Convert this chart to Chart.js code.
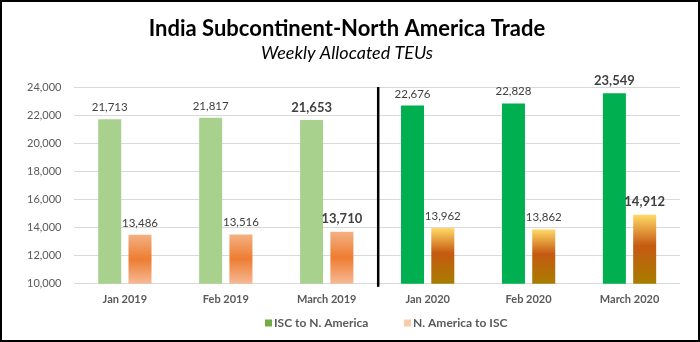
<!DOCTYPE html>
<html><head><meta charset="utf-8">
<script src="https://cdn.jsdelivr.net/npm/chart.js@4/dist/chart.umd.min.js"></script>
<style>
html,body{margin:0;padding:0;background:#fff;}
#wrap{width:700px;height:342px;box-sizing:border-box;border:2px solid #000;position:relative;}
</style></head><body>
<div id="wrap"><canvas id="c" width="696" height="338"></canvas></div>
<script>
const categories = ["Jan 2019","Feb 2019","March 2019","Jan 2020","Feb 2020","March 2020"];
const iscToNA = [21713, 21817, 21653, 22676, 22828, 23549];
const naToISC = [13486, 13516, 13710, 13962, 13862, 14912];
const boldLabelIdx = [2, 5];
const seriesNames = ["ISC to N. America", "N. America to ISC"];
const legendColors = ['#70ad47', '#f8cbad'];

const FONT = "Lato, 'Open Sans', sans-serif";

function greenColor(ctx){ return ctx.dataIndex < 3 ? '#a9d18e' : '#00b050'; }
function orangeGrad(ctx){
  const chart = ctx.chart; const {ctx:c, scales} = chart;
  if (!scales || !scales.y || ctx.type !== 'data') return '#f4b183';
  const v = ctx.raw;
  const yTop = scales.y.getPixelForValue(v);
  const yBot = scales.y.getPixelForValue(10000);
  if (!isFinite(yTop) || !isFinite(yBot)) return '#f4b183';
  const g = c.createLinearGradient(0, yTop, 0, yBot);
  if (ctx.dataIndex < 3) {
    g.addColorStop(0, '#f4b183');
    g.addColorStop(0.5, '#ed7d31');
    g.addColorStop(1, '#f6b995');
  } else {
    g.addColorStop(0, '#ffd966');
    g.addColorStop(0.45, '#c55a11');
    g.addColorStop(1, '#a87d00');
  }
  return g;
}

const labelPlugin = {
  id: 'barLabels',
  afterDatasetsDraw(chart){
    const c = chart.ctx;
    chart.data.datasets.forEach((ds, di) => {
      const meta = chart.getDatasetMeta(di);
      meta.data.forEach((bar, i) => {
        const bold = boldLabelIdx.includes(i);
        c.save();
        c.font = (bold ? 'bold 13px ' : '11.5px ') + FONT;
        c.fillStyle = '#404040';
        c.textAlign = 'center';
        c.textBaseline = 'bottom';
        c.fillText(ds.data[i].toLocaleString('en-US'), bar.x, bar.y - 6);
        c.restore();
      });
    });
  }
};

const dividerPlugin = {
  id: 'divider',
  afterDatasetsDraw(chart){
    const x = chart.scales.x; const y = chart.scales.y;
    const px = (x.getPixelForValue(2) + x.getPixelForValue(3)) / 2 + 1;
    const c = chart.ctx;
    c.save();
    c.strokeStyle = '#000'; c.lineWidth = 2.5;
    c.beginPath(); c.moveTo(px, y.getPixelForValue(24000)); c.lineTo(px, y.getPixelForValue(10000) + 3); c.stroke();
    c.restore();
  }
};

const legendPlugin = {
  id: 'customLegend',
  afterDraw(chart){
    const c = chart.ctx;
    const yc = 321;
    const starts = [263, 402];
    c.save();
    c.font = 'bold 12px ' + FONT;
    c.textBaseline = 'middle';
    c.textAlign = 'left';
    seriesNames.forEach((n, i) => {
      c.fillStyle = legendColors[i];
      c.fillRect(starts[i], yc - 3.5, 7, 7);
      c.fillStyle = '#595959';
      c.fillText(n, starts[i] + 9, yc);
    });
    c.restore();
  }
};

new Chart(document.getElementById('c'), {
  type: 'bar',
  data: {
    labels: categories,
    datasets: [
      { label: seriesNames[0], data: iscToNA, backgroundColor: greenColor, borderWidth: 0,
        categoryPercentage: 0.6, barPercentage: 0.76 },
      { label: seriesNames[1], data: naToISC, backgroundColor: orangeGrad, borderWidth: 0,
        categoryPercentage: 0.6, barPercentage: 0.76 }
    ]
  },
  options: {
    responsive: false, animation: false,
    layout: { padding: { left: 12, right: 18, top: 11, bottom: 25 } },
    plugins: {
      title: { display: true, text: 'India Subcontinent-North America Trade', color: '#000',
        font: { family: FONT, size: 22, weight: 'bold' }, padding: { top: 3, bottom: 0 } },
      subtitle: { display: true, text: 'Weekly Allocated TEUs', color: '#000',
        font: { family: FONT, size: 18, style: 'italic' }, padding: { bottom: 23 } },
      legend: { display: false },
      tooltip: { enabled: false }
    },
    scales: {
      x: { grid: { display: false, drawTicks: false }, border: { display: false },
        ticks: { color: '#595959', font: { family: FONT, size: 11, weight: 'bold' }, padding: 9 } },
      y: { min: 10000, max: 24000, border: { display: false },
        grid: { color: '#d9d9d9', lineWidth: 1, drawTicks: false },
        ticks: { stepSize: 2000, color: '#595959', font: { family: FONT, size: 11 }, padding: 13,
          callback: v => v.toLocaleString('en-US') } }
    }
  },
  plugins: [labelPlugin, dividerPlugin, legendPlugin]
});
</script></body></html>
